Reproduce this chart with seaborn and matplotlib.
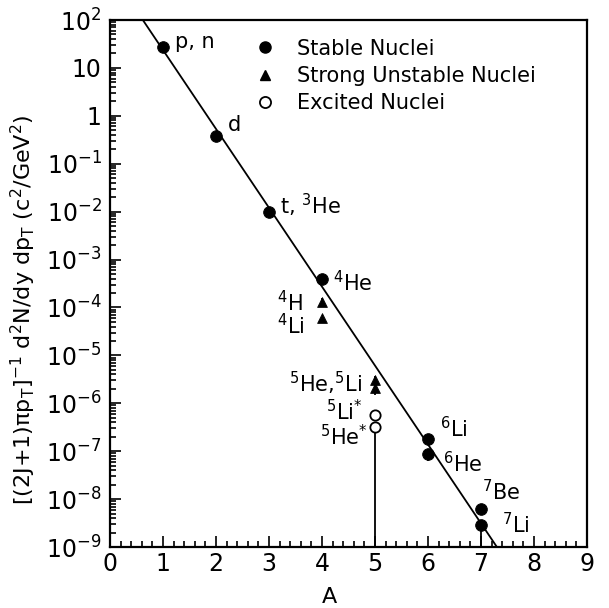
import numpy as np
import pandas as pd
import matplotlib
matplotlib.use("Agg")
import matplotlib.pyplot as plt
import seaborn as sns
from matplotlib.ticker import FuncFormatter, LogLocator, MultipleLocator
from matplotlib.lines import Line2D

# ===== DATA =====
stable_A = [1, 2, 3, 4, 6, 6, 7, 7]
stable_y = [27, 0.38, 0.0098, 4.0e-4, 1.8e-7, 8.7e-8, 6.3e-9, 2.9e-9]

unstable_A = [4, 4, 5, 5]
unstable_y = [1.3e-4, 5.9e-5, 3.0e-6, 2.1e-6]

excited_A = [5, 5]
excited_y = [5.6e-7, 3.2e-7]

# error bars (lower end, upper end)
err_A = [4, 5, 5, 6, 5, 7]
err_y = [1.3e-4, 3.0e-6, 2.1e-6, 8.7e-8, 3.2e-7, 2.9e-9]
err_lo = [1.1e-4, 2.5e-6, 1.5e-6, 6.3e-8, 1e-12, 1e-12]
err_hi = [1.6e-4, 3.8e-6, 2.6e-6, 8.7e-8, 3.2e-7, 2.9e-9]

# fit line end points
fit_A = [0.62, 7.3]
fit_y = [1e2, 1e-9]

# labels: text, A, y, alignment
lab_text = ["p, n", "d", "t, $^{3}$He", "$^{4}$He", "$^{4}$H", "$^{4}$Li",
            "$^{5}$He,$^{5}$Li", "$^{5}$Li$^{*}$", "$^{5}$He$^{*}$",
            "$^{6}$Li", "$^{6}$He", "$^{7}$Be", "$^{7}$Li"]
lab_A = [1.23, 2.22, 3.2, 4.2, 3.64, 3.68, 4.75, 4.77, 4.87, 6.23, 6.28, 7.02, 7.4]
lab_y = [10**1.54, 10**-0.19, 10**-1.86, 10**-3.49, 10**-3.89, 10**-4.37,
         10**-5.58, 10**-6.17, 10**-6.70, 10**-6.52, 10**-7.25, 10**-7.85, 10**-8.54]
lab_ha = ["left", "left", "left", "left", "right", "right", "right", "right", "right",
          "left", "left", "left", "left"]

# ===== PLOT =====
sns.set_style("ticks")
plt.rcParams["font.family"] = ["DejaVu Sans"]
plt.rcParams["mathtext.default"] = "regular"
for k in ["text.color", "axes.labelcolor", "xtick.color", "ytick.color", "axes.edgecolor"]:
    plt.rcParams[k] = "black"

fig = plt.figure(figsize=(6.09, 6.08), dpi=100)
ax = fig.add_axes([0.1806, 0.1003, 0.7833, 0.8668])

sns.lineplot(x=fit_A, y=fit_y, ax=ax, color="black", lw=1.3, zorder=2)

yerr = [np.array(err_y) - np.array(err_lo), np.array(err_hi) - np.array(err_y)]
ax.errorbar(err_A, err_y, yerr=yerr, fmt="none", ecolor="black", elinewidth=1.3,
            capsize=0, zorder=3)

sns.scatterplot(x=stable_A, y=stable_y, ax=ax, marker="o", s=70, color="black",
                edgecolor="black", zorder=4)
sns.scatterplot(x=unstable_A, y=unstable_y, ax=ax, marker="^", s=50, color="black",
                edgecolor="black", zorder=4)
sns.scatterplot(x=excited_A, y=excited_y, ax=ax, marker="o", s=55, facecolor="white",
                edgecolor="black", linewidth=1.3, zorder=4)

for t, a, v, h in zip(lab_text, lab_A, lab_y, lab_ha):
    ax.text(a, v, t, ha=h, va="center", fontsize=15)

ax.set_yscale("log")
ax.set_xlim(0, 9)
ax.set_ylim(1e-9, 1e2)

ax.xaxis.set_major_locator(MultipleLocator(1))
ax.xaxis.set_minor_locator(MultipleLocator(0.2))
ax.yaxis.set_major_locator(LogLocator(base=10, numticks=20))
ax.yaxis.set_minor_locator(LogLocator(base=10, subs=np.arange(2, 10), numticks=20))


def fmt_log(v, pos):
    e = int(round(np.log10(v)))
    if e == 0:
        return "1"
    if e == 1:
        return "10"
    return "$10^{%d}$" % e


ax.yaxis.set_major_formatter(FuncFormatter(fmt_log))
ax.tick_params(which="both", direction="in", top=False, right=False,
               labelsize=17, width=1.2)
ax.tick_params(which="major", length=8)
ax.tick_params(which="minor", length=4)
ax.tick_params(axis="y", pad=6)
for sp in ax.spines.values():
    sp.set_linewidth(1.6)

ax.set_xlabel("A", fontsize=16)
ax.xaxis.set_label_coords(0.46, -0.075)
ax.set_ylabel("[(2J+1)$\\pi$p$_{T}$]$^{-1}$ d$^{2}$N/dy dp$_{T}$ (c$^{2}$/GeV$^{2}$)",
              fontsize=16)
ax.yaxis.set_label_coords(-0.15, 0.45)

handles = [
    Line2D([], [], marker="o", ls="none", color="black", markersize=8),
    Line2D([], [], marker="^", ls="none", color="black", markersize=7),
    Line2D([], [], marker="o", ls="none", markerfacecolor="white",
           markeredgecolor="black", markersize=8, markeredgewidth=1.3),
]
ax.legend(handles, ["Stable Nuclei", "Strong Unstable Nuclei", "Excited Nuclei"],
          loc="upper left", bbox_to_anchor=(0.26, 1.0), frameon=False,
          fontsize=15, handletextpad=0.9, labelspacing=0.35, handlelength=1.2)

fig.savefig("out.png", dpi=100)
